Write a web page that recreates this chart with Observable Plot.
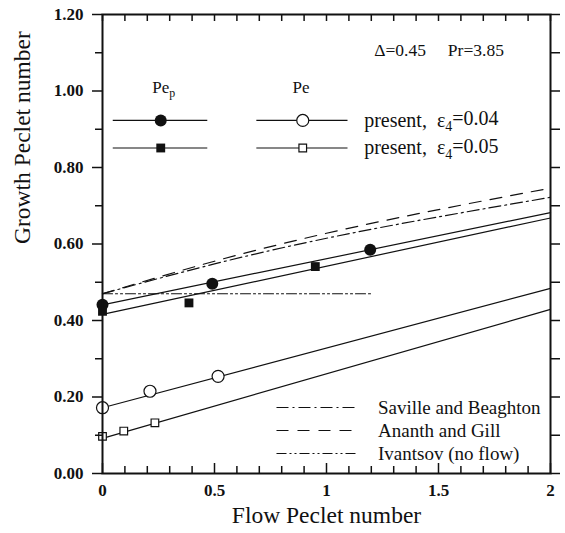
<!DOCTYPE html>
<html><head><meta charset="utf-8">
<script src="https://cdn.jsdelivr.net/npm/d3@7"></script>
<script src="https://cdn.jsdelivr.net/npm/@observablehq/plot@0.6"></script>
<style>body{margin:0;background:#fff}</style>
</head><body><div id="chart"></div>
<script>
// ---- data ----
const pepCircleX = [0, 0.49, 1.195];
const pepCircleY = [0.441, 0.496, 0.585];
const pepSquareX = [0, 0.386, 0.95];
const pepSquareY = [0.424, 0.446, 0.541];
const peCircleX = [0, 0.212, 0.516];
const peCircleY = [0.172, 0.215, 0.254];
const peSquareX = [0, 0.095, 0.234];
const peSquareY = [0.097, 0.111, 0.1325];

const fitX = [0, 2];
const pepCircleFitY = [0.441, 0.682];
const pepSquareFitY = [0.416, 0.668];
const peCircleFitY = [0.172, 0.484];
const peSquareFitY = [0.092, 0.429];

const theoryX = [0, 0.5, 1, 1.5, 2];
const savilleY = [0.47, 0.548, 0.615, 0.671, 0.722];
const ananthY = [0.47, 0.555, 0.628, 0.69, 0.746];
const ivantsovX = [0, 1.2];
const ivantsovY = [0.47, 0.47];

const yMajorTicks = [0, 0.2, 0.4, 0.6, 0.8, 1.0, 1.2];
const yMinorTicks = [0.1, 0.3, 0.5, 0.7, 0.9, 1.1];
const xMajorTicks = [0, 0.5, 1, 1.5, 2];
const xMinorTicks = d3.range(0, 21).map(i => i / 10).filter(v => Math.round(v * 10) % 5 !== 0);
const xAllTicks = d3.range(0, 21).map(i => i / 10);
const yAllTicks = d3.range(0, 13).map(i => i / 10);

const xTitle = "Flow Peclet number";
const yTitle = "Growth Peclet number";
const paramText = "\u0394=0.45     Pr=3.85";
const legendLabels = ["present,  \u03b5|4|=0.04", "present,  \u03b5|4|=0.05"];
const legendHeads = ["Pe|p|", "Pe"];
const theoryLabels = ["Saville and Beaghton", "Ananth and Gill", "Ivantsov (no flow)"];

// ---- layout (data units) ----
const W = 565, H = 533, mL = 102, mR = 15, mT = 14, mB = 60;
const plotH = H - mT - mB;
const toPts = (xs, ys) => xs.map((x, i) => ({x, y: ys[i]}));

const dashSaville = "12,4,2,4";
const dashAnanth = "12,9";
const dashIvantsov = "10,3,2,3,2,3";

const legRows = [0.923, 0.851];
const legCol1 = [0.048, 0.47], legCol1M = 0.26;
const legCol2 = [0.689, 1.096], legCol2M = 0.894;
const legTextX = 1.168;
const legHeadX = [0.273, 0.886], legHeadY = 1.009;
const thRows = [0.1725, 0.1124, 0.0523];
const thLine = [0.779, 1.145];
const thTextX = 1.23;

const serif = "Liberation Serif, Times New Roman, serif";
const lw = 1.2;

const plot = Plot.plot({
  width: W, height: H,
  marginLeft: mL, marginRight: mR, marginTop: mT, marginBottom: mB,
  x: {domain: [0, 2], label: null},
  y: {domain: [0, 1.2], label: null},
  style: {fontFamily: serif, fontSize: "16px", color: "#111", background: "#fff"},
  marks: [
    // theory curves
    Plot.line(toPts(theoryX, ananthY), {x: "x", y: "y", curve: "natural", stroke: "#111", strokeWidth: lw, strokeDasharray: dashAnanth}),
    Plot.line(toPts(theoryX, savilleY), {x: "x", y: "y", curve: "natural", stroke: "#111", strokeWidth: lw, strokeDasharray: dashSaville}),
    Plot.line(toPts(ivantsovX, ivantsovY), {x: "x", y: "y", stroke: "#111", strokeWidth: lw, strokeDasharray: dashIvantsov}),
    // fit lines
    Plot.line(toPts(fitX, pepCircleFitY), {x: "x", y: "y", stroke: "#111", strokeWidth: lw}),
    Plot.line(toPts(fitX, pepSquareFitY), {x: "x", y: "y", stroke: "#111", strokeWidth: lw}),
    Plot.line(toPts(fitX, peCircleFitY), {x: "x", y: "y", stroke: "#111", strokeWidth: lw}),
    Plot.line(toPts(fitX, peSquareFitY), {x: "x", y: "y", stroke: "#111", strokeWidth: lw}),
    // points
    Plot.dot(toPts(pepCircleX, pepCircleY), {x: "x", y: "y", r: 6, fill: "#111", clip: false}),
    Plot.dot(toPts(pepSquareX, pepSquareY), {x: "x", y: "y", r: 5, symbol: "square", fill: "#111", clip: false}),
    Plot.dot(toPts(peCircleX, peCircleY), {x: "x", y: "y", r: 6, fill: "#fff", stroke: "#111", strokeWidth: lw, clip: false}),
    Plot.dot(toPts(peSquareX, peSquareY), {x: "x", y: "y", r: 4.3, symbol: "square", fill: "#fff", stroke: "#111", strokeWidth: lw, clip: false}),

    // legend top
    Plot.text(legendHeads, {x: (d, i) => legHeadX[i], y: legHeadY, text: d => d, fontSize: 17, className: "subtxt"}),
    Plot.ruleY(legRows, {x1: legCol1[0], x2: legCol1[1], y: d => d, stroke: "#111", strokeWidth: lw}),
    Plot.ruleY(legRows, {x1: legCol2[0], x2: legCol2[1], y: d => d, stroke: "#111", strokeWidth: lw}),
    Plot.dot([legRows[0]], {x: legCol1M, y: d => d, r: 6, fill: "#111"}),
    Plot.dot([legRows[1]], {x: legCol1M, y: d => d, r: 5, symbol: "square", fill: "#111"}),
    Plot.dot([legRows[0]], {x: legCol2M, y: d => d, r: 6, fill: "#fff", stroke: "#111", strokeWidth: lw}),
    Plot.dot([legRows[1]], {x: legCol2M, y: d => d, r: 4.3, symbol: "square", fill: "#fff", stroke: "#111", strokeWidth: lw}),
    Plot.text(legendLabels, {x: legTextX, y: (d, i) => legRows[i], text: d => d, textAnchor: "start", fontSize: 20, className: "subtxt"}),
    Plot.text([paramText], {x: 1.213, y: 1.106, text: d => d, textAnchor: "start", fontSize: 17.5}),

    // legend bottom
    Plot.ruleY([thRows[0]], {x1: thLine[0], x2: thLine[1], y: d => d, stroke: "#111", strokeWidth: lw, strokeDasharray: dashSaville}),
    Plot.ruleY([thRows[1]], {x1: thLine[0], x2: thLine[1], y: d => d, stroke: "#111", strokeWidth: lw, strokeDasharray: dashAnanth}),
    Plot.ruleY([thRows[2]], {x1: thLine[0], x2: thLine[1], y: d => d, stroke: "#111", strokeWidth: lw, strokeDasharray: dashIvantsov}),
    Plot.text(theoryLabels, {x: thTextX, y: (d, i) => thRows[i], text: d => d, textAnchor: "start", fontSize: 19}),

    // axes
    Plot.frame({stroke: "#111", strokeWidth: 2}),
    Plot.axisY({ticks: yMajorTicks, tickSize: 10, tickPadding: 9, tickFormat: d3.format(".2f"), fontWeight: "bold", fontSize: 17, strokeWidth: 1.5}),
    Plot.axisY({ticks: yMinorTicks, tickSize: 7, tickFormat: () => "", strokeWidth: 1.5}),
    Plot.axisY({anchor: "right", ticks: yAllTicks, tickSize: 9, tickFormat: () => "", strokeWidth: 1.5}),
    Plot.tickX(xAllTicks, {x: d => d, insetBottom: plotH - 7, strokeWidth: 1.5}),
    Plot.tickX(xMinorTicks, {x: d => d, insetTop: plotH - 7, strokeWidth: 1.5}),
    Plot.tickX(xMajorTicks, {x: d => d, insetTop: plotH - 10, strokeWidth: 1.5}),
    Plot.axisX({ticks: xMajorTicks, tickSize: 0, tickPadding: 10, tickFormat: d => String(d), fontWeight: "bold", fontSize: 17}),
    Plot.text([yTitle], {frameAnchor: "left", dx: -80, rotate: -90, text: d => d, fontSize: 23.5}),
    Plot.text([xTitle], {frameAnchor: "bottom", dy: 49, text: d => d, fontSize: 23.5})
  ]
});

// subscripts: "a|b|c" -> a<sub>b</sub>c
d3.select(plot).selectAll(".subtxt text").each(function() {
  const t = d3.select(this);
  const parts = t.text().split("|");
  if (parts.length < 2) return;
  t.text(null);
  t.append("tspan").text(parts[0]);
  t.append("tspan").attr("dy", "0.3em").attr("font-size", "70%").text(parts[1]);
  if (parts[2]) t.append("tspan").attr("dy", "-0.3em").text(parts[2]);
});

document.getElementById("chart").appendChild(plot);
</script>
</body></html>
